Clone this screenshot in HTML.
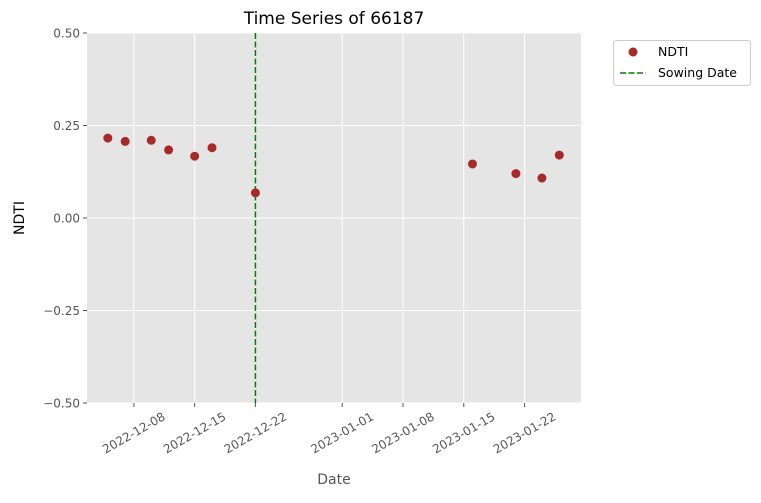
<!DOCTYPE html>
<html><head><meta charset="utf-8"><style>
body{margin:0;background:#fff;font-family:"Liberation Sans","DejaVu Sans",sans-serif;}
svg text{font-family:"DejaVu Sans","Liberation Sans",sans-serif;}
</style></head><body>
<svg id="chart" width="761" height="498" viewBox="0 0 761 498"></svg>
<script>
const dates=["2022-12-05","2022-12-07","2022-12-10","2022-12-12","2022-12-15","2022-12-17","2022-12-22","2023-01-16","2023-01-21","2023-01-24","2023-01-26"];
const ndti=[0.216,0.207,0.21,0.184,0.167,0.19,0.068,0.146,0.12,0.108,0.17];
const xTicks=["2022-12-08","2022-12-15","2022-12-22","2023-01-01","2023-01-08","2023-01-15","2023-01-22"];
const yTicks=[-0.5,-0.25,0,0.25,0.5];
const yTickLabels=["\u22120.50","\u22120.25","0.00","0.25","0.50"];
const sowingDate="2022-12-22";

const NS="http://www.w3.org/2000/svg";
const svg=document.getElementById('chart');
const L=87,R=581,T=33,B=403;
const base=Date.UTC(2022,11,8), DAY=86400000;
const dmin=-5.4, dmax=51.5;
function days(s){const p=s.split('-');return (Date.UTC(+p[0],+p[1]-1,+p[2])-base)/DAY;}
function xs(s){return L+(days(s)-dmin)/(dmax-dmin)*(R-L);}
function ys(v){return B-(v+0.5)/1.0*(B-T);}
function el(tag,attrs,parent){const e=document.createElementNS(NS,tag);for(const k in attrs)e.setAttribute(k,attrs[k]);(parent||svg).appendChild(e);return e;}

const bg=el('rect',{x:L,y:T,width:R-L,height:B-T,fill:'#e5e5e5'});



yTicks.forEach((v,i)=>{
  const y=ys(v);
  const g=el('line',{x1:L,x2:R,y1:y,y2:y,stroke:'#fff','stroke-width':1});
  
  
  el('line',{x1:L-4,x2:L,y1:y,y2:y,stroke:'#555'});
  const t=el('text',{x:L-7,y:y+4.5,'text-anchor':'end','font-size':12,fill:'#555'});
  t.textContent=yTickLabels[i];
  
  
});
xTicks.forEach(d=>{
  const x=xs(d);
  const g=el('line',{x1:x,x2:x,y1:T,y2:B,stroke:'#fff','stroke-width':1});
  
  
  el('line',{x1:x,x2:x,y1:B,y2:B+4,stroke:'#555'});
  const cy=B+30;
  const t=el('text',{x:x,y:cy+4,'text-anchor':'middle','font-size':12,fill:'#555',transform:`rotate(-30 ${x} ${cy})`});
  t.textContent=d;
  
  
});

const sx=xs(sowingDate);
const sl=el('line',{x1:sx,x2:sx,y1:T,y2:B,stroke:'#008000','stroke-width':1.5,'stroke-dasharray':'6,2.5'});



dates.forEach((d,i)=>{
  const c=el('circle',{cx:xs(d),cy:ys(ndti[i]),r:4.5,fill:'#a52a2a'});
  
  
});

const title=el('text',{x:(L+R)/2,y:24,'text-anchor':'middle','font-size':17,fill:'#000'});
title.textContent='Time Series of 66187';


const xl=el('text',{x:(L+R)/2,y:484,'text-anchor':'middle','font-size':14,fill:'#555'});
xl.textContent='Date';


const yl=el('text',{x:24,y:(T+B)/2,'text-anchor':'middle','font-size':14,fill:'#000',transform:`rotate(-90 24 ${(T+B)/2})`});
yl.textContent='NDTI';



const lg=el('g',{});


el('rect',{x:613.5,y:40.5,width:137,height:45,rx:3,fill:'#fff',stroke:'#ccc'},lg);
const lc=el('circle',{cx:633,cy:52,r:4.5,fill:'#a52a2a'},lg);


const lt1=el('text',{x:658,y:56,'font-size':12.5,fill:'#000'},lg);
lt1.textContent='NDTI';


const ll=el('line',{x1:620,x2:646,y1:73,y2:73,stroke:'#008000','stroke-width':1.5,'stroke-dasharray':'6,2.5'},lg);


const lt2=el('text',{x:658,y:77,'font-size':12.5,fill:'#000'},lg);
lt2.textContent='Sowing Date';


</script>
</body></html>
